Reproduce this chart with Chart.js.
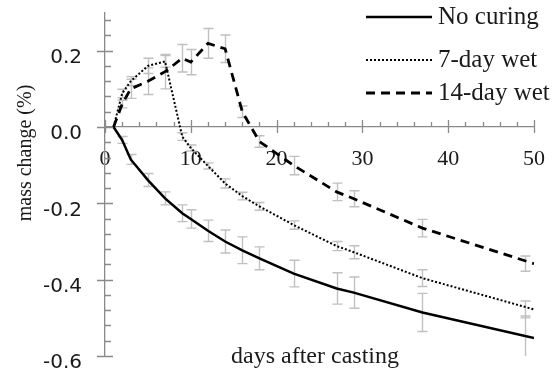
<!DOCTYPE html>
<html>
<head>
<meta charset="utf-8">
<script src="https://cdn.jsdelivr.net/npm/chart.js@4.4.1/dist/chart.umd.min.js"></script>
<style>
  html, body { margin: 0; padding: 0; background: #fff; }
</style>
</head>
<body>
<canvas id="chart" width="558" height="372"></canvas>
<script>
// measurement days; the last error bar was logged at day 49
const days = [1, 2, 3, 5, 7, 9, 10, 12, 14, 16, 18, 22, 27, 29, 37, 50]
const errDays = [1, 2, 3, 5, 7, 9, 10, 12, 14, 16, 18, 22, 27, 29, 37, 49]

// mass change (%)
const noCuring = [0, -0.034, -0.085, -0.139, -0.187, -0.226, -0.241, -0.272, -0.300, -0.323, -0.344, -0.384, -0.423, -0.434, -0.486, -0.553]
const wet7 = [0, 0.088, 0.12, 0.16, 0.172, -0.025, -0.055, -0.102, -0.148, -0.181, -0.208, -0.257, -0.312, -0.328, -0.396, -0.478]
const wet14 = [0, 0.06, 0.10, 0.12, 0.145, 0.180, 0.170, 0.219, 0.205, 0.040, -0.038, -0.101, -0.170, -0.188, -0.265, -0.358]

// +/- standard deviation
const noCuringErr = [null, 0.009, 0.013, 0.017, 0.017, 0.022, 0.024, 0.028, 0.030, 0.035, 0.030, 0.035, 0.041, 0.041, 0.050, 0.058]
const wet7Err = [null, 0.011, 0.012, 0.020, 0.015, 0.010, 0.008, 0.008, 0.012, 0.010, 0.010, 0.011, 0.012, 0.017, 0.022, 0.022]
const wet14Err = [null, 0.010, 0.025, 0.035, 0.045, 0.036, 0.033, 0.039, 0.036, 0.015, 0.015, 0.024, 0.023, 0.021, 0.023, 0.020]

const xTicks = [0, 10, 20, 30, 40, 50]
const yTicks = [-0.6, -0.4, -0.2, 0.0, 0.2]
const yTickLabels = ['-0.6', '-0.4', '-0.2', '0.0', '0.2']

const axisGray = '#8a8a8a'
const barGray = '#c0c0c0'
const serif = '"Liberation Serif", "Times New Roman", serif'

function toPoints(vals) {
    let pts = []
    vals.forEach((v, i) => pts.push({x: days[i], y: v}))
    return pts
}

const decorations = {
    id: 'decorations',
    beforeDatasetsDraw(chart) {
        // error bars go under the lines
        const {ctx, chartArea: a, scales: {x, y}} = chart
        ctx.save()
        ctx.beginPath()
        ctx.rect(a.left, a.top, a.right - a.left, a.bottom - a.top)
        ctx.clip()
        ctx.strokeStyle = barGray
        ctx.lineWidth = 1.4
        chart.data.datasets.forEach(ds => {
            ds.errors.forEach((e, i) => {
                if (e == null) return
                const px = Math.round(x.getPixelForValue(errDays[i])) + 0.5
                const v = ds.data[i].y
                const top = y.getPixelForValue(v + e)
                const bot = y.getPixelForValue(v - e)
                ctx.beginPath()
                ctx.moveTo(px, top); ctx.lineTo(px, bot)
                ctx.moveTo(px - 5, top); ctx.lineTo(px + 5, top)
                ctx.moveTo(px - 5, bot); ctx.lineTo(px + 5, bot)
                ctx.stroke()
            })
        })
        ctx.restore()
    },
    afterDraw(chart) {
        const {ctx, scales: {x, y}} = chart
        const x0 = x.getPixelForValue(0)
        const y0 = y.getPixelForValue(0)
        ctx.save()

        // tick marks: majors cross the axis, minors point inward
        ctx.strokeStyle = axisGray
        ctx.lineWidth = 1.3
        ctx.beginPath()
        for (let d = 0; d <= 50; d += 2) {
            const px = Math.round(x.getPixelForValue(d)) + 0.5
            if (d % 10 === 0) { ctx.moveTo(px, y0 - 7); ctx.lineTo(px, y0 + 6) }
            else { ctx.moveTo(px, y0 - 5); ctx.lineTo(px, y0) }
        }
        for (let k = 0; k <= 22; k++) {
            const py = Math.round(y.getPixelForValue(-0.6 + k * 0.04)) + 0.5
            if (k % 5 === 0) { ctx.moveTo(x0 - 8, py); ctx.lineTo(x0 + 8, py) }
            else { ctx.moveTo(x0, py); ctx.lineTo(x0 + 6, py) }
        }
        ctx.stroke()

        // axis titles
        ctx.fillStyle = '#1a1a1a'
        ctx.textAlign = 'center'
        ctx.textBaseline = 'alphabetic'
        ctx.font = '24px ' + serif
        ctx.fillText('days after casting', 315, 363)

        ctx.save()
        ctx.translate(31, 153)
        ctx.rotate(-Math.PI / 2)
        ctx.font = '20px ' + serif
        ctx.fillText('mass change (%)', 0, 0)
        ctx.restore()

        // legend
        const rows = [17, 60, 93]
        ctx.textAlign = 'left'
        ctx.textBaseline = 'middle'
        ctx.font = '25px ' + serif
        chart.data.datasets.forEach((ds, i) => {
            ctx.strokeStyle = ds.borderColor
            ctx.lineWidth = ds.borderWidth
            ctx.setLineDash(ds.borderDash || [])
            ctx.beginPath()
            ctx.moveTo(366, rows[i])
            ctx.lineTo(432, rows[i])
            ctx.stroke()
            ctx.setLineDash([])
            ctx.fillText(ds.label, 438, rows[i])
        })
        ctx.restore()
    }
}

new Chart(document.getElementById('chart'), {
    type: 'line',
    data: {
        datasets: [{
            label: 'No curing',
            data: toPoints(noCuring),
            errors: noCuringErr,
            borderColor: '#000000',
            borderWidth: 2.5
        }, {
            label: '7-day wet',
            data: toPoints(wet7),
            errors: wet7Err,
            borderColor: '#000000',
            borderWidth: 2,
            borderDash: [2, 2]
        }, {
            label: '14-day wet',
            data: toPoints(wet14),
            errors: wet14Err,
            borderColor: '#000000',
            borderWidth: 2.8,
            borderDash: [9, 6]
        }]
    },
    options: {
        responsive: false,
        animation: false,
        devicePixelRatio: 1,
        layout: {
            padding: {left: 0, top: 12.5, right: 24, bottom: 16}
        },
        elements: {
            point: {radius: 0},
            line: {tension: 0, fill: false}
        },
        scales: {
            x: {
                type: 'linear',
                position: {y: 0},
                min: 0,
                max: 50,
                afterBuildTicks: s => { s.ticks = xTicks.map(v => ({value: v})) },
                afterFit: s => { s.height = 0; s.paddingLeft = 0; s.paddingRight = 0 },
                grid: {display: false, drawTicks: false},
                border: {display: true, color: axisGray, width: 1.3},
                ticks: {
                    color: '#1a1a1a',
                    padding: 19,
                    maxRotation: 0,
                    font: {family: serif, size: 22}
                }
            },
            y: {
                min: -0.6,
                max: 0.3,
                afterBuildTicks: s => { s.ticks = yTicks.map(v => ({value: v})) },
                afterFit: s => { s.width = 105; s.paddingTop = 0; s.paddingBottom = 0 },
                grid: {display: false, drawTicks: false},
                border: {display: true, color: axisGray, width: 1.3},
                ticks: {
                    color: '#1a1a1a',
                    padding: 23,
                    labelOffset: 7,
                    font: {family: 'DejaVu Sans', size: 20},
                    callback: (v, i) => yTickLabels[i]
                }
            }
        },
        plugins: {
            legend: {display: false},
            tooltip: {enabled: false}
        }
    },
    plugins: [decorations]
})
</script>
</body>
</html>
